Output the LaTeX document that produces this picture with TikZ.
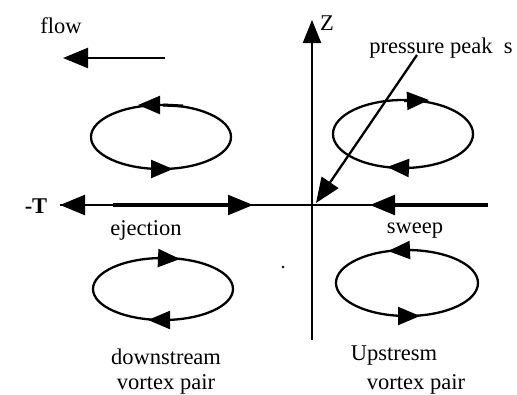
\documentclass[tikz,border=0pt]{standalone}
\usepackage{fontspec}
\setmainfont{Liberation Serif}
\usetikzlibrary{arrows.meta}
\tikzset{
  lbl/.style={inner sep=0pt, anchor=base, font=\fontsize{22.5}{26}\selectfont},
  axisline/.style={line width=2.3pt},
  thickseg/.style={line width=4pt},
  bigtip/.style={-{Triangle[length=25pt,width=20pt]}},
  loop/.style={line width=2.3pt},
  looptip/.style={line width=2.3pt,-{Triangle[length=22pt,width=18pt]}, shorten >=0pt}
}
\begin{document}
\begin{tikzpicture}[x=1pt,y=-1pt]
\useasboundingbox (0,0) rectangle (517,394);
% labels
\node[lbl] (flow) at (61,33) {flow};
\node[lbl] (z) at (327,30) {Z};
\node[lbl] (pp) at (441,53) {pressure peak\ \ s};
\node[lbl,font=\bfseries\fontsize{22.5}{26}\selectfont] (t) at (36,213) {-T};
\node[lbl] (ej) at (146,235) {ejection};
\node[lbl] (sw) at (415,233) {sweep};
\node[lbl] (ds) at (166,364) {downstream};
\node[lbl] (dv) at (166,389) {vortex pair};
\node[lbl] (us) at (394,360) {Upstresm};
\node[lbl] (uv) at (416,389) {vortex pair};
% coordinates
\coordinate (f1) at (165,58);
\coordinate (f2) at (63,58);
\coordinate (zb) at (312,340);
\coordinate (zt) at (312,20);
\coordinate (p1) at (417,55);
\coordinate (p2) at (316,203);
\coordinate (hl) at (60,205);
\coordinate (hr) at (488,205);
% flow arrow
\draw[axisline,bigtip] (f1) -- (f2);
% Z axis
\draw[axisline,-{Triangle[length=23pt,width=18pt]}] (zb) -- (zt);
% pressure peak line
\draw[axisline,bigtip] (p1) -- (p2);
% horizontal axis
\draw[axisline] (hl) -- (hr);
\draw[thickseg] (113,205) -- (228,205);
\draw[thickseg] (395,205) -- (hr);
\draw[axisline,bigtip] (86,205) -- (hl);
\draw[axisline,bigtip] (226,205) -- (253,205);
\draw[axisline,bigtip] (398,205) -- (370,205);
% ellipses
\draw[loop] (161,137) ellipse [x radius=70, y radius=32];
\draw[looptip] (164,105) -- (138,105);
\draw[looptip] (150,169) -- (173,169);
\draw[line width=3pt] (163,105) -- (183,106);

\draw[loop] (403,134) ellipse [x radius=70, y radius=34];
\draw[looptip] (404,101) -- (429,100);
\draw[looptip] (410,168) -- (387,167);

\draw[loop] (163,289) ellipse [x radius=70, y radius=31];
\draw[looptip] (157,258) -- (180,259);
\draw[looptip] (172,320) -- (148,320);

\draw[loop] (407,283) ellipse [x radius=71, y radius=33];
\draw[looptip] (411,250) -- (388,251);
\draw[looptip] (397,316) -- (420,316);
% dot
\fill (283,267) circle (1.3);
\end{tikzpicture}
\end{document}
